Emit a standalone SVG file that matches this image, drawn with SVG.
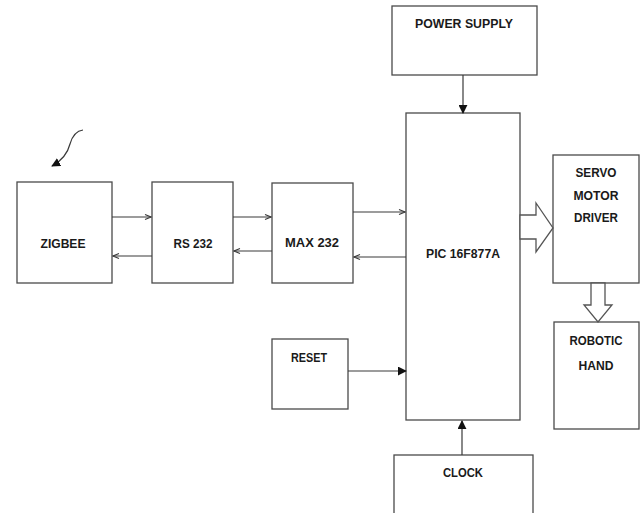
<svg xmlns="http://www.w3.org/2000/svg" width="643" height="513" viewBox="0 0 643 513">
<style>
.box{fill:#fff;stroke:#4a4a4a;stroke-width:1.3}
.lbl{font-family:"Liberation Sans",Arial,sans-serif;font-size:13.5px;font-weight:bold;fill:#1a1a1a;text-anchor:middle}
.ln{stroke:#3a3a3a;stroke-width:1.2;fill:none}
.blk{fill:#fff;stroke:#555;stroke-width:1.3}
</style>
<defs>
<marker id="open" viewBox="0 0 8 8" refX="7" refY="4" markerWidth="8" markerHeight="8" markerUnits="userSpaceOnUse" orient="auto">
<path d="M1,1.5 L7,4 L1,6.5" fill="none" stroke="#3a3a3a" stroke-width="1.1"/>
</marker>
<marker id="fill" viewBox="0 0 10 10" refX="9" refY="5" markerWidth="9" markerHeight="9" markerUnits="userSpaceOnUse" orient="auto">
<path d="M0,0 L10,5 L0,10 Z" fill="#111"/>
</marker>
</defs>
<rect width="643" height="513" fill="#fff"/>

<g id="power_supply"><rect class="box" x="392" y="6" width="145" height="69"/><text class="lbl" x="464" y="28" textLength="98" lengthAdjust="spacingAndGlyphs">POWER SUPPLY</text></g>
<g id="zigbee"><rect class="box" x="17" y="182" width="95" height="101"/><text class="lbl" x="63" y="248" textLength="45" lengthAdjust="spacingAndGlyphs">ZIGBEE</text></g>
<g id="rs232"><rect class="box" x="152" y="182" width="81" height="101"/><text class="lbl" x="193" y="248" textLength="39" lengthAdjust="spacingAndGlyphs">RS 232</text></g>
<g id="max232"><rect class="box" x="272" y="183" width="81" height="100"/><text class="lbl" x="312" y="247" textLength="54" lengthAdjust="spacingAndGlyphs">MAX 232</text></g>
<g id="pic"><rect class="box" x="406" y="113" width="114" height="307"/><text class="lbl" x="463" y="258" textLength="74" lengthAdjust="spacingAndGlyphs">PIC 16F877A</text></g>
<g id="servo"><rect class="box" x="553" y="155" width="86" height="128"/><text class="lbl" x="596" y="177" textLength="41" lengthAdjust="spacingAndGlyphs">SERVO</text><text class="lbl" x="596" y="200" textLength="45" lengthAdjust="spacingAndGlyphs">MOTOR</text><text class="lbl" x="596" y="222" textLength="44" lengthAdjust="spacingAndGlyphs">DRIVER</text></g>
<g id="robotic_hand"><rect class="box" x="554" y="322" width="85" height="107"/><text class="lbl" x="596" y="345" textLength="53" lengthAdjust="spacingAndGlyphs">ROBOTIC</text><text class="lbl" x="596" y="370" textLength="35" lengthAdjust="spacingAndGlyphs">HAND</text></g>
<g id="reset"><rect class="box" x="272" y="339" width="76" height="70"/><text class="lbl" x="309" y="362" textLength="36" lengthAdjust="spacingAndGlyphs">RESET</text></g>
<g id="clock"><rect class="box" x="394" y="455" width="139" height="62"/><text class="lbl" x="463" y="477" textLength="40" lengthAdjust="spacingAndGlyphs">CLOCK</text></g>

<g id="connectors">
<path class="ln" d="M112,217 H151" marker-end="url(#open)"/>
<path class="ln" d="M152,256 H113" marker-end="url(#open)"/>
<path class="ln" d="M233,217 H271" marker-end="url(#open)"/>
<path class="ln" d="M272,251 H234" marker-end="url(#open)"/>
<path class="ln" d="M353,212 H405" marker-end="url(#open)"/>
<path class="ln" d="M406,257 H354" marker-end="url(#open)"/>
<path class="ln" d="M463,75 V113" marker-end="url(#fill)"/>
<path class="ln" d="M348,371 H406" marker-end="url(#fill)"/>
<path class="ln" d="M462,455 V421" marker-end="url(#fill)"/>
<polygon class="blk" points="520,215 536,215 536,203 553,228 536,252 536,239 520,239"/>
<polygon class="blk" points="591,283 605,283 605,305 612,305 598,322 584,305 591,305"/>
<path class="ln" d="M83,130 C75,131 72,137 70,144 C68,152 63,160 52,166" marker-end="url(#fill)"/>
</g>
</svg>
